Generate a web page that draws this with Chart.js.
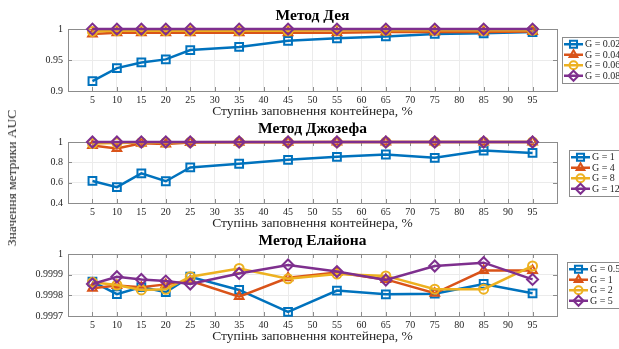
<!DOCTYPE html>
<html>
<head>
<meta charset="utf-8">
<script src="https://cdn.jsdelivr.net/npm/chart.js@4.4.1/dist/chart.umd.min.js"></script>
<style>
  body { margin: 0; background: #fff; }
  #wrap { position: relative; width: 619px; height: 349px; overflow: hidden; }
  canvas { position: absolute; left: 0; }
  #ylab {
    position: absolute; left: 12px; top: 178px;
    transform: translate(-50%, -50%) rotate(-90deg);
    font: 13.5px "Liberation Serif", serif; color: #262626; white-space: nowrap;
  }
</style>
</head>
<body>
<div id="wrap">
  <canvas id="c1" width="619" height="123" style="top:0px"></canvas>
  <canvas id="c2" width="619" height="122" style="top:113px"></canvas>
  <canvas id="c3" width="619" height="123" style="top:225px"></canvas>
  <div id="ylab">Значення метрики AUC</div>
</div>
<script>
// fill levels, %
var fill = [5, 10, 15, 20, 25, 35, 45, 55, 65, 75, 85, 95];
var xTicks = [5, 10, 15, 20, 25, 30, 35, 40, 45, 50, 55, 60, 65, 70, 75, 80, 85, 90, 95];

// Метод Дея
var deaLabels = ['G = 0.02', 'G = 0.04', 'G = 0.06', 'G = 0.08'];
var dea002 = [0.916, 0.937, 0.946, 0.951, 0.966, 0.971, 0.981, 0.985, 0.988, 0.992, 0.993, 0.995];
var dea004 = [0.992, 0.994, 0.994, 0.994, 0.994, 0.994, 0.994, 0.994, 0.995, 0.995, 0.995, 0.996];
var dea006 = [0.996, 0.997, 0.997, 0.997, 0.997, 0.997, 0.997, 0.998, 0.998, 0.998, 0.998, 0.998];
var dea008 = [0.9998, 0.9998, 0.9998, 0.9998, 0.9998, 0.9998, 0.9998, 0.9998, 0.9998, 0.9998, 0.9998, 0.9998];
var deaTicks = [0.9, 0.95, 1];

// Метод Джозефа
var josLabels = ['G = 1', 'G = 4', 'G = 8', 'G = 12'];
var jos1 = [0.617, 0.556, 0.692, 0.614, 0.750, 0.786, 0.825, 0.854, 0.877, 0.844, 0.916, 0.893];
var jos4 = [0.966, 0.936, 0.987, 0.980, 0.995, 0.998, 0.998, 0.999, 0.999, 0.999, 0.999, 0.999];
var jos8 = [0.985, 0.990, 0.995, 0.995, 0.998, 0.999, 0.999, 0.999, 1, 1, 1, 1];
var jos12 = [1, 1, 1, 1, 1, 1, 1, 1, 1, 1, 1, 1];
var josTicks = [0.4, 0.6, 0.8, 1];

// Метод Елайона
var elaLabels = ['G = 0.5', 'G = 1', 'G = 2', 'G = 5'];
var ela05 = [0.999866, 0.999806, 0.99984, 0.999815, 0.99989, 0.999826, 0.99972, 0.999823, 0.999805, 0.999808, 0.999855, 0.99981];
var ela1 = [0.999834, 0.999847, 0.999839, 0.999853, 0.99987, 0.999794, 0.999885, 0.99991, 0.999877, 0.99981, 0.99992, 0.99992];
var ela2 = [0.999863, 0.99985, 0.999826, 0.999829, 0.99989, 0.99993, 0.99988, 0.999903, 0.999894, 0.99983, 0.99983, 0.999942];
var ela5 = [0.999855, 0.99989, 0.999877, 0.999869, 0.999855, 0.999906, 0.999947, 0.999915, 0.999874, 0.999942, 0.999958, 0.999877];
var elaTicks = [0.9997, 0.9998, 0.9999, 1];

var colors = ['#0072BD', '#D95319', '#EDB120', '#7E2F8E'];
var styles = ['rect', 'triangle', 'circle', 'rectRot'];
var radii = [5.5, 5, 4.5, 5.5];
var serif = '"Liberation Serif", "Times New Roman", serif';

function makeSets(labels, series) {
  return series.map(function (vals, i) {
    return {
      label: labels[i],
      data: vals.map(function (v, j) { return { x: fill[j], y: v }; }),
      borderColor: colors[i],
      borderWidth: 2.5,
      pointStyle: styles[i],
      pointRadius: radii[i],
      pointBorderWidth: 2,
      pointBorderColor: colors[i],
      pointBackgroundColor: 'rgba(0,0,0,0)',
      order: 4 - i,
      clip: false
    };
  });
}

// axes box with inward ticks and a title centred over the plot, like MATLAB
var boxPlugin = {
  id: 'box',
  beforeDatasetsDraw: function (chart, args, opts) {
    var a = chart.chartArea, ctx = chart.ctx;
    ctx.save();
    ctx.strokeStyle = '#8c8c8c';
    ctx.lineWidth = 1;
    ctx.strokeRect(Math.round(a.left) + 0.5, Math.round(a.top) + 0.5,
      Math.round(a.right - a.left), Math.round(a.bottom - a.top));
    ctx.beginPath();
    chart.scales.x.ticks.forEach(function (t) {
      var px = Math.round(chart.scales.x.getPixelForValue(t.value)) + 0.5;
      ctx.moveTo(px, a.bottom); ctx.lineTo(px, a.bottom - 4);
      ctx.moveTo(px, a.top); ctx.lineTo(px, a.top + 4);
    });
    chart.scales.y.ticks.forEach(function (t) {
      var py = Math.round(chart.scales.y.getPixelForValue(t.value)) + 0.5;
      ctx.moveTo(a.left, py); ctx.lineTo(a.left + 4, py);
      ctx.moveTo(a.right, py); ctx.lineTo(a.right - 4, py);
    });
    ctx.stroke();
    ctx.fillStyle = '#000';
    ctx.font = 'bold 15.5px ' + serif;
    ctx.textAlign = 'center';
    ctx.textBaseline = 'middle';
    ctx.fillText(opts.title, (a.left + a.right) / 2, opts.titleY);
    ctx.restore();
  }
};

// MATLAB style legend: line sample with marker
var legendPlugin = {
  id: 'mlegend',
  afterDraw: function (chart, args, opts) {
    var a = chart.chartArea, ctx = chart.ctx;
    var sets = chart.data.datasets;
    var rowH = 10.5, h = sets.length * rowH + 4;
    var top = Math.round((a.top + a.bottom) / 2 - h / 2);
    var left = opts.left;
    ctx.save();
    ctx.fillStyle = '#fff';
    ctx.strokeStyle = '#8c8c8c';
    ctx.lineWidth = 1;
    ctx.fillRect(left, top, 80, h);
    ctx.strokeRect(left + 0.5, top + 0.5, 80, h);
    ctx.font = '10px ' + serif;
    ctx.textBaseline = 'middle';
    sets.forEach(function (ds, i) {
      var y = top + 2 + rowH * (i + 0.5);
      ctx.strokeStyle = ds.borderColor;
      ctx.lineWidth = 2.5;
      ctx.beginPath();
      ctx.moveTo(left + 2, y); ctx.lineTo(left + 21, y);
      ctx.stroke();
      ctx.lineWidth = 2;
      ctx.fillStyle = 'rgba(0,0,0,0)';
      Chart.helpers.drawPoint(ctx, {
        pointStyle: ds.pointStyle, radius: ds.pointRadius - 0.5, rotation: 0, borderWidth: 2
      }, left + 11.5, y);
      ctx.fillStyle = '#262626';
      ctx.fillText(ds.label, left + 23, y + 0.5);
    });
    ctx.restore();
  }
};

function makeChart(id, title, titleY, labels, series, yMin, yMax, yTicks, legLeft) {
  return new Chart(document.getElementById(id), {
    type: 'line',
    data: { datasets: makeSets(labels, series) },
    plugins: [boxPlugin, legendPlugin],
    options: {
      responsive: false,
      animation: false,
      layout: { padding: { right: 62, top: 29 } },
      plugins: {
        legend: { display: false },
        tooltip: { enabled: false },
        box: { title: title, titleY: titleY },
        mlegend: { left: legLeft }
      },
      scales: {
        x: {
          type: 'linear',
          min: 0,
          max: 100,
          afterBuildTicks: function (s) { s.ticks = xTicks.map(function (v) { return { value: v }; }); },
          afterFit: function (s) { s.height = 32; },
          grid: { color: '#ebebeb', drawTicks: false },
          border: { display: false },
          ticks: { color: '#262626', font: { family: serif, size: 10 }, padding: 3, maxRotation: 0, autoSkip: false },
          title: {
            display: true,
            text: 'Ступінь заповнення контейнера, %',
            color: '#262626',
            font: { family: serif, size: 13.5 },
            padding: { top: 0, bottom: 3 }
          }
        },
        y: {
          min: yMin,
          max: yMax,
          afterBuildTicks: function (s) { s.ticks = yTicks.map(function (v) { return { value: v }; }); },
          afterFit: function (s) { s.width = 68; },
          grid: { color: '#ebebeb', drawTicks: false },
          border: { display: false },
          ticks: {
            color: '#262626',
            font: { family: serif, size: 10 },
            padding: 5,
            callback: function (v) { return String(+v.toFixed(5)); }
          }
        }
      }
    }
  });
}

makeChart('c1', 'Метод Дея', 15.5, deaLabels, [dea002, dea004, dea006, dea008], 0.9, 1, deaTicks, 562);
makeChart('c2', 'Метод Джозефа', 16, josLabels, [jos1, jos4, jos8, jos12], 0.4, 1, josTicks, 569);
makeChart('c3', 'Метод Елайона', 16, elaLabels, [ela05, ela1, ela2, ela5], 0.9997, 1, elaTicks, 567);
</script>
</body>
</html>
